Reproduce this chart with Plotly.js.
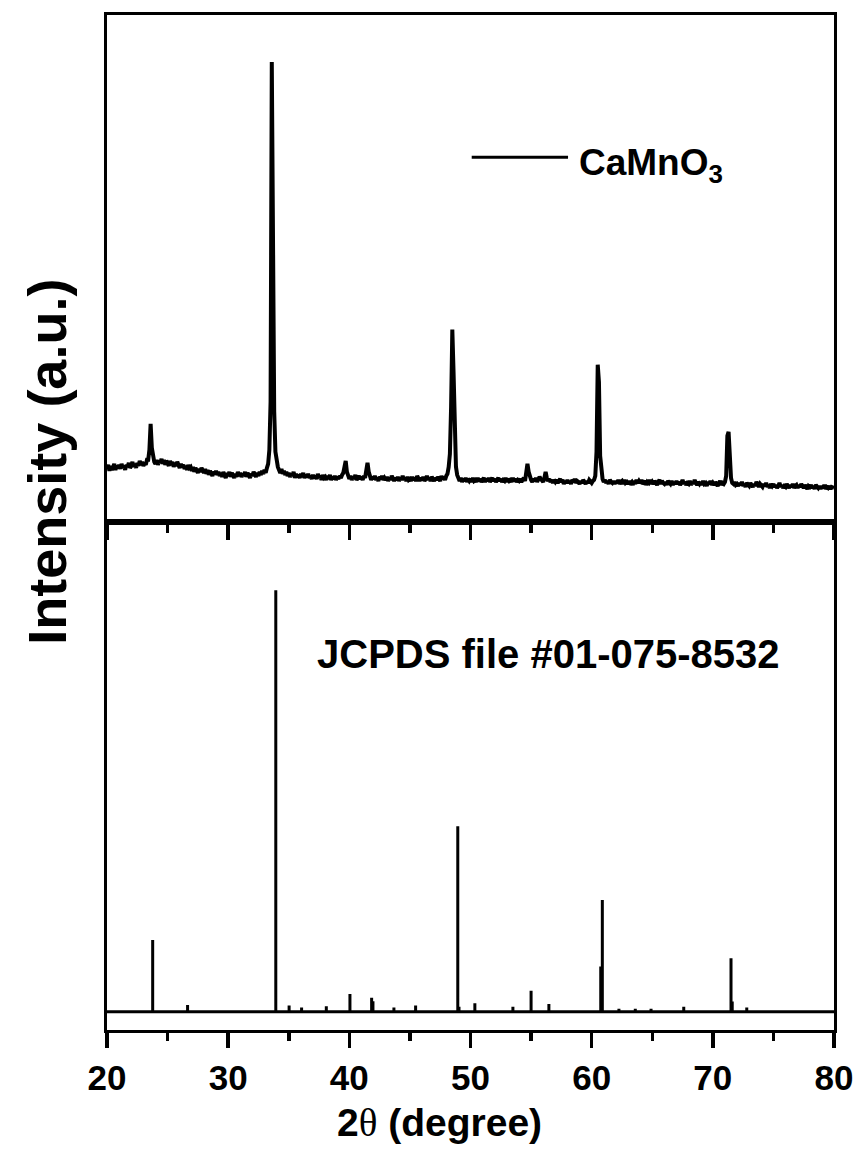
<!DOCTYPE html>
<html>
<head>
<meta charset="utf-8">
<script src="https://cdn.plot.ly/plotly-3.0.1.min.js"></script>
<style>
  html, body { margin: 0; padding: 0; background: #fff; }
  #chart { width: 860px; height: 1151px; }
</style>
</head>
<body>
<div id="chart"></div>
<script>
// ---- Measured XRD pattern (CaMnO3), 2θ from 20° to 80° sampled every 0.1° ----
const scanStart = 20;
const scanStep = 0.1;
// one row per degree (20.0 ... 20.9, 21.0 ... 21.9, ...), last value at 80.0
const measuredIntensity = [
  53, 57, 51, 56, 52, 55, 58, 52, 56, 54,   // 20
  57, 53, 58, 54, 56, 52, 57, 55, 59, 54,   // 21
  56, 60, 55, 58, 54, 59, 56, 61, 57, 60,   // 22
  56, 59, 57, 62, 62, 72, 98, 74, 63, 60,   // 23
  58, 62, 57, 61, 59, 63, 58, 62, 57, 61,   // 24
  59, 56, 61, 57, 60, 55, 59, 56, 60, 57,   // 25
  54, 58, 55, 57, 53, 56, 52, 57, 54, 55,   // 26
  51, 55, 50, 54, 52, 49, 53, 50, 54, 51,   // 27
  49, 53, 48, 52, 47, 51, 49, 46, 50, 48,   // 28
  51, 47, 50, 46, 49, 45, 50, 47, 44, 49,   // 29
  46, 50, 45, 49, 47, 44, 48, 45, 50, 46,   // 30
  49, 45, 48, 46, 50, 45, 49, 47, 44, 48,   // 31
  46, 50, 47, 45, 49, 46, 50, 47, 51, 48,   // 32
  52, 49, 54, 58, 72, 120, 459, 235, 110, 70, // 33
  60, 55, 52, 49, 53, 48, 51, 47, 50, 46,   // 34
  49, 45, 48, 46, 50, 44, 48, 45, 47, 44,   // 35
  48, 45, 49, 44, 47, 45, 48, 44, 46, 43,   // 36
  47, 44, 46, 43, 48, 44, 46, 42, 47, 44,   // 37
  45, 42, 46, 43, 47, 42, 45, 43, 46, 42,   // 38
  45, 43, 46, 44, 47, 49, 55, 61, 50, 45,   // 39
  43, 46, 42, 45, 43, 47, 42, 44, 46, 43,   // 40
  45, 42, 46, 44, 50, 59, 50, 44, 42, 45,   // 41
  43, 46, 42, 44, 41, 45, 43, 46, 42, 44,   // 42
  42, 45, 41, 44, 42, 46, 43, 41, 44, 42,   // 43
  45, 41, 44, 42, 46, 42, 44, 41, 45, 42,   // 44
  43, 41, 45, 42, 44, 41, 46, 43, 41, 44,   // 45
  42, 45, 41, 43, 46, 42, 44, 41, 45, 43,   // 46
  41, 44, 42, 45, 43, 41, 46, 43, 45, 42,   // 47
  46, 48, 55, 68, 115, 192, 150, 78, 55, 47, // 48
  44, 41, 44, 40, 43, 41, 44, 40, 43, 41,   // 49
  43, 40, 44, 41, 42, 40, 44, 41, 43, 40,   // 50
  42, 44, 40, 43, 41, 44, 40, 42, 44, 41,   // 51
  43, 40, 42, 44, 41, 43, 40, 42, 41, 44,   // 52
  40, 43, 41, 42, 40, 44, 41, 43, 40, 42,   // 53
  41, 43, 40, 42, 44, 41, 49, 58, 50, 44,   // 54
  42, 40, 43, 41, 44, 40, 42, 45, 43, 41,   // 55
  40, 44, 50, 44, 41, 43, 40, 42, 39, 42,   // 56
  40, 42, 39, 41, 43, 40, 42, 38, 41, 39,   // 57
  42, 39, 41, 38, 42, 40, 43, 39, 41, 40,   // 58
  38, 41, 39, 42, 40, 38, 41, 39, 42, 40,   // 59
  39, 41, 42, 46, 70, 157, 140, 66, 48, 43, // 60
  40, 42, 39, 41, 38, 42, 40, 39, 41, 38,   // 61
  41, 39, 42, 38, 40, 41, 38, 42, 39, 40,   // 62
  38, 41, 39, 40, 37, 41, 38, 42, 39, 41,   // 63
  39, 42, 38, 40, 41, 37, 40, 39, 42, 38,   // 64
  40, 38, 41, 39, 37, 40, 42, 38, 41, 39,   // 65
  38, 40, 37, 41, 39, 38, 41, 37, 40, 38,   // 66
  41, 38, 40, 37, 39, 42, 38, 40, 37, 39,   // 67
  38, 41, 37, 40, 38, 42, 39, 37, 40, 38,   // 68
  40, 37, 41, 38, 39, 36, 40, 38, 41, 37,   // 69
  39, 37, 40, 38, 36, 39, 41, 37, 39, 38,   // 70
  40, 46, 86, 90, 58, 44, 39, 38, 40, 37,   // 71
  38, 36, 39, 37, 40, 36, 38, 35, 39, 37,   // 72
  36, 39, 37, 35, 38, 36, 40, 37, 35, 38,   // 73
  37, 35, 38, 36, 39, 35, 37, 34, 38, 36,   // 74
  38, 35, 37, 34, 36, 39, 35, 37, 34, 36,   // 75
  35, 38, 36, 34, 37, 35, 38, 34, 36, 37,   // 76
  34, 37, 35, 38, 36, 34, 37, 35, 33, 36,   // 77
  35, 37, 34, 36, 33, 37, 35, 34, 36, 33,   // 78
  36, 34, 37, 33, 35, 34, 36, 33, 35, 34,   // 79
  34                                          // 80
];

// ---- Reference pattern JCPDS #01-075-8532 (stick positions and relative intensities) ----
const refPositions   = [23.77, 26.65, 33.93, 35.03, 36.06, 38.10, 40.05, 41.84, 41.95, 43.68, 45.47,
                        48.95, 49.05, 50.36, 53.50, 55.00, 56.47, 60.75, 60.88, 62.25, 63.60, 64.90,
                        67.60, 71.50, 71.60, 72.80];
const refIntensities = [17.0, 1.6, 100, 1.5, 1.0, 1.3, 4.2, 3.3, 2.5, 1.0, 1.5,
                        44.0, 1.2, 2.0, 1.2, 5.0, 1.8, 10.7, 26.5, 0.7, 0.7, 0.7,
                        1.2, 12.7, 2.4, 1.0];

const xTickStart = 20;
const xTickStep = 10;
const xMinorStep = 5;
const sampleLabel = 'CaMnO<sub>3</sub>';
const refLabel = 'JCPDS file #01-075-8532';

// ---- build traces ----
const twoTheta = measuredIntensity.map((_, i) => +(scanStart + i * scanStep).toFixed(2));

const stickX = [20];
const stickY = [0];
refPositions.forEach((p, i) => {
  stickX.push(p, p, p);
  stickY.push(0, refIntensities[i], 0);
});
stickX.push(80); stickY.push(0);

const FONT = 'Liberation Sans, Arial, Helvetica, sans-serif';

const traces = [
  {
    x: twoTheta, y: measuredIntensity, xaxis: 'x2', yaxis: 'y2',
    type: 'scatter', mode: 'lines', name: 'CaMnO3',
    line: { color: '#000', width: 4 }, showlegend: false, hoverinfo: 'x+y'
  },
  {
    x: stickX, y: stickY, xaxis: 'x', yaxis: 'y',
    type: 'scatter', mode: 'lines', name: 'JCPDS 01-075-8532',
    line: { color: '#000', width: 3 }, showlegend: false, hoverinfo: 'x+y'
  }
];

const split = 0.5005;
function xAxisBase() {
  return {
    range: [20, 80], showgrid: false, zeroline: false,
    showline: true, linecolor: '#000', linewidth: 3, mirror: true,
    tickmode: 'linear', tick0: xTickStart, dtick: xTickStep,
    ticks: 'outside', ticklen: 15, tickwidth: 3.5, tickcolor: '#000',
    minor: { ticks: 'outside', ticklen: 8, tickwidth: 3.5, tickcolor: '#000',
             dtick: xMinorStep, showgrid: false }
  };
}

const layout = {
  width: 860, height: 1151,
  margin: { l: 107, r: 26, t: 15, b: 121 },
  paper_bgcolor: '#fff', plot_bgcolor: '#fff',
  showlegend: false,
  xaxis: Object.assign(xAxisBase(), {
    anchor: 'y',
    showticklabels: true,
    tickfont: { family: FONT, size: 35, color: '#000', weight: 'bold' }
  }),
  xaxis2: Object.assign(xAxisBase(), {
    anchor: 'y2', showticklabels: false
  }),
  yaxis: {
    domain: [0, split], range: [-4.34, 116.2], showgrid: false, zeroline: false,
    showline: true, linecolor: '#000', linewidth: 3, mirror: true,
    ticks: '', showticklabels: false
  },
  yaxis2: {
    domain: [split, 1], range: [0, 506], showgrid: false, zeroline: false,
    showline: true, linecolor: '#000', linewidth: 3, mirror: true,
    ticks: '', showticklabels: false
  },
  shapes: [
    { type: 'line', xref: 'x2', yref: 'y2', x0: 50.1, x1: 58.05, y0: 364, y1: 364,
      line: { color: '#000', width: 3 } }
  ],
  annotations: [
    { text: '<b>' + sampleLabel + '</b>', xref: 'x2', yref: 'y2', x: 58.8, y: 356,
      xanchor: 'left', yanchor: 'middle', showarrow: false,
      font: { family: FONT, size: 37, color: '#000' } },
    { text: '<b>' + refLabel + '</b>', xref: 'x', yref: 'y', x: 56.45, y: 84.8,
      xanchor: 'center', yanchor: 'middle', showarrow: false,
      font: { family: FONT, size: 40, color: '#000' } },
    { text: '<b>Intensity (a.u.)</b>', xref: 'paper', yref: 'paper', x: -0.083, y: 0.5596,
      xanchor: 'center', yanchor: 'middle', textangle: -90, showarrow: false,
      font: { family: FONT, size: 54, color: '#000' } },
    { text: '<b>2<span style="font-family:\'Liberation Serif\', \'Times New Roman\', serif;font-weight:normal">θ</span> (degree)</b>',
      xref: 'paper', yref: 'paper', x: 0.458, y: -0.0916,
      xanchor: 'center', yanchor: 'middle', showarrow: false,
      font: { family: FONT, size: 39, color: '#000' } }
  ]
};

Plotly.newPlot('chart', traces, layout, { staticPlot: true, displayModeBar: false });
</script>
</body>
</html>
